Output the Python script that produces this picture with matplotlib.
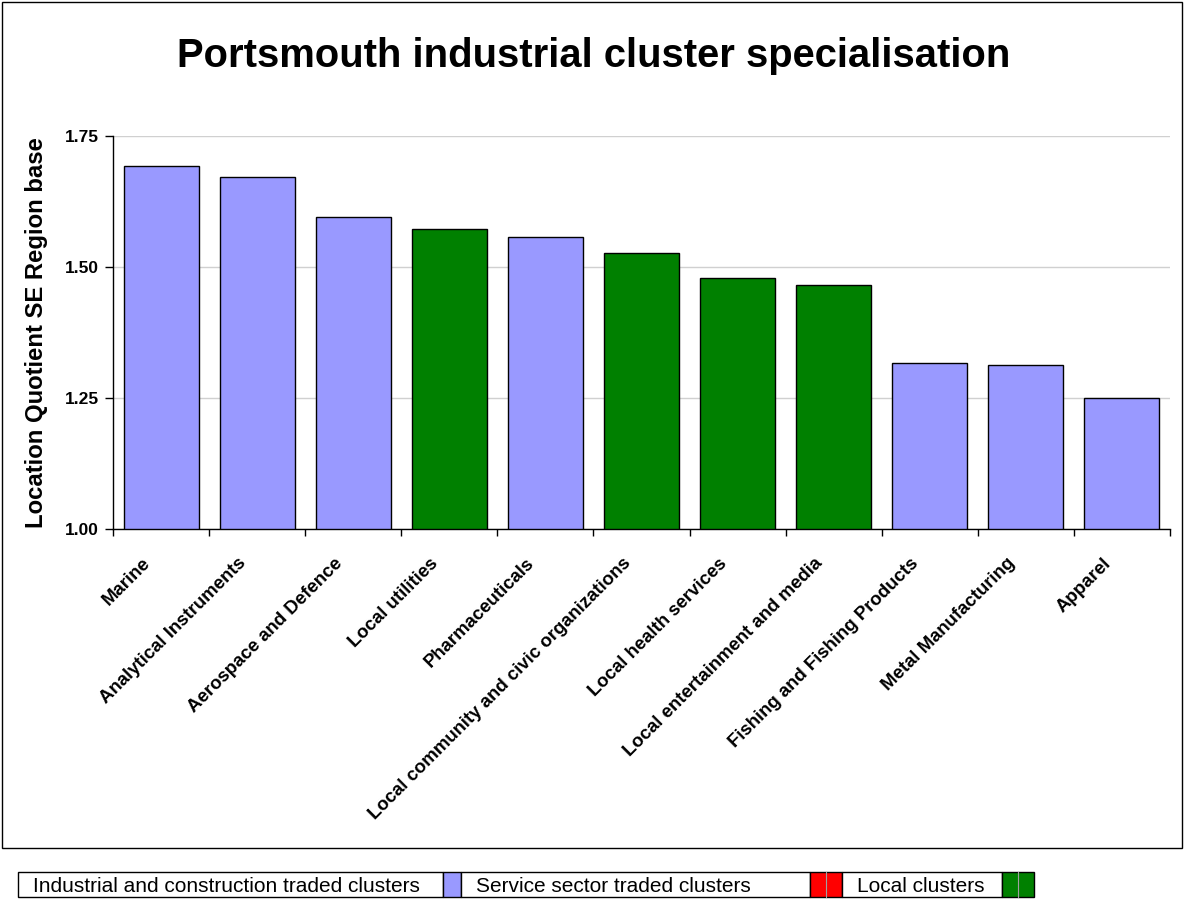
import matplotlib
matplotlib.use("Agg")
import matplotlib.pyplot as plt
from matplotlib.patches import Rectangle
from matplotlib.lines import Line2D
import numpy as np

plt.rcParams['font.family'] = ['Liberation Sans', 'DejaVu Sans']

categories = ["Marine", "Analytical Instruments", "Aerospace and Defence", "Local utilities",
              "Pharmaceuticals", "Local community and civic organizations", "Local health services",
              "Local entertainment and media", "Fishing and Fishing Products", "Metal Manufacturing",
              "Apparel"]
values = [1.693, 1.672, 1.595, 1.573, 1.557, 1.527, 1.479, 1.466, 1.317, 1.313, 1.250]
groups = ["service", "service", "service", "local", "service", "local", "local", "local",
          "service", "service", "service"]
group_colors = {"industrial": "#FF0000", "service": "#9999FF", "local": "#008000"}
yticks = [1.00, 1.25, 1.50, 1.75]
legend_labels = ["Industrial and construction traded clusters", "Service sector traded clusters", "Local clusters"]
legend_colors = ["#9999FF", "#FF0000", "#008000"]

W, H = 1184, 900
fig = plt.figure(figsize=(W / 100, H / 100), dpi=100)

# outer chart frame
fig.patches.append(Rectangle((2 / W, 1 - 848 / H), 1180 / W, 846 / H, transform=fig.transFigure,
                             fill=False, edgecolor="black", linewidth=1.0))

ax = fig.add_axes([113 / W, 1 - 529 / H, (1170 - 113) / W, (529 - 136) / H])
x = np.arange(len(categories))
ax.bar(x, [v - 1.0 for v in values], bottom=1.0, width=0.78,
       color=[group_colors[g] for g in groups], edgecolor="black", linewidth=1.0, zorder=3)
ax.set_ylim(1.0, 1.75)
ax.set_xlim(-0.5, len(categories) - 0.5)
ax.set_yticks(yticks)
ax.set_yticklabels([f"{t:.2f}" for t in yticks], fontsize=12.5, fontweight="bold")
ax.yaxis.grid(True, color="#D0D0D0", linewidth=1.0, zorder=0)
ax.set_axisbelow(True)
for s in ["top", "right"]:
    ax.spines[s].set_visible(False)
ax.spines["left"].set_linewidth(1.0)
ax.spines["bottom"].set_linewidth(1.0)
ax.tick_params(axis="y", direction="out", length=6, width=1, pad=4)

# category ticks at boundaries
ax.set_xticks(np.arange(-0.5, len(categories), 1.0))
ax.set_xticklabels([])
ax.tick_params(axis="x", direction="out", length=5, width=1)
for xi, lab in zip(x, categories):
    ax.annotate(lab, xy=(xi, 1.0), xycoords="data", xytext=(-14, -18.5), textcoords="offset points",
                rotation=45, ha="right", va="top", rotation_mode="anchor",
                fontsize=13.4, fontweight="bold")

ax.set_ylabel("Location Quotient SE Region base", fontsize=17.2, fontweight="bold", labelpad=12)

fig.text(594 / W, 1 - 56 / H, "Portsmouth industrial cluster specialisation", ha="center", va="center",
         fontsize=28.8, fontweight="bold")

# legend table at bottom
y0, y1 = 872, 897
cells = [(18, 443, "text", legend_labels[0]), (443, 461, "sw", legend_colors[0]),
         (461, 810, "text", legend_labels[1]), (810, 842, "sw", legend_colors[1]),
         (842, 1002, "text", legend_labels[2]), (1002, 1034, "sw", legend_colors[2])]
for xa, xb, kind, val in cells:
    fc = "white" if kind == "text" else val
    fig.patches.append(Rectangle((xa / W, 1 - y1 / H), (xb - xa) / W, (y1 - y0) / H,
                                 transform=fig.transFigure, facecolor=fc, edgecolor="black",
                                 linewidth=1.0))
    if kind == "text":
        fig.text((xa + 15) / W, 1 - ((y0 + y1) / 2 + 1.5) / H, val, ha="left", va="center", fontsize=15)
    elif xb - xa > 25:
        xm = (xa + xb) / 2
        fig.lines.append(Line2D([xm / W, xm / W], [1 - y1 / H, 1 - y0 / H], transform=fig.transFigure,
                                color="#A0A0A0", linewidth=0.8))

fig.savefig("out.png", dpi=100)
